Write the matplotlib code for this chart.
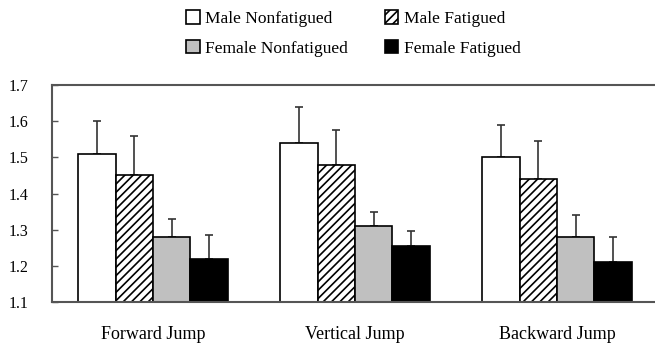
import numpy as np
import matplotlib
matplotlib.use("Agg")
import matplotlib.pyplot as plt

plt.rcParams['font.family'] = ['Liberation Serif', 'DejaVu Serif']
plt.rcParams['hatch.linewidth'] = 1.2

groups = ["Forward Jump", "Vertical Jump", "Backward Jump"]
series = ["Male Nonfatigued", "Male Fatigued", "Female Nonfatigued", "Female Fatigued"]

male_non = [1.51, 1.54, 1.50]
male_fat = [1.45, 1.48, 1.44]
female_non = [1.28, 1.31, 1.28]
female_fat = [1.22, 1.255, 1.21]

male_non_err = [0.09, 0.10, 0.09]
male_fat_err = [0.11, 0.095, 0.105]
female_non_err = [0.05, 0.04, 0.06]
female_fat_err = [0.065, 0.04, 0.07]

values = [male_non, male_fat, female_non, female_fat]
errors = [male_non_err, male_fat_err, female_non_err, female_fat_err]
colors = ["white", "white", "#c0c0c0", "black"]
hatches = [None, "////", None, None]

fig = plt.figure(figsize=(6.55, 3.43), dpi=100)
ax = fig.add_axes([52 / 655, 1 - 302 / 343, 606 / 655, (302 - 85) / 343])

x = np.arange(len(groups))
w = 0.185
bars = []
for i in range(4):
    pos = x + (i - 1.5) * w
    b = ax.bar(pos, values[i], w, bottom=0, color=colors[i], edgecolor="black",
               hatch=hatches[i], linewidth=1.2, label=series[i], zorder=2)
    bars.append(b)
    ax.errorbar(pos, values[i], yerr=[np.zeros(3), errors[i]], fmt="none",
                ecolor="#333333", elinewidth=1.2, capsize=3, capthick=1.2, zorder=1)

ax.set_xlim(-0.5, 2.5)
ax.set_ylim(1.1, 1.7)
ax.set_yticks(np.arange(1.1, 1.71, 0.1))
ax.set_yticklabels(["%.1f" % v for v in np.arange(1.1, 1.71, 0.1)], fontsize=11.5)
ax.set_xticks(x)
ax.set_xticklabels(groups, fontsize=13)
ax.tick_params(axis="x", length=0, pad=17)
ax.tick_params(axis="y", direction="in", length=4, width=1, color="#555555", pad=17)
for s in ["left", "top", "bottom"]:
    ax.spines[s].set_color("#555555")
    ax.spines[s].set_linewidth(1.5)
ax.spines["right"].set_visible(False)

# legend rows: male on top, female below
order = [0, 2, 1, 3]
fig.legend([bars[i] for i in order], [series[i] for i in order],
           loc="upper left", bbox_to_anchor=(174 / 655, 1.005), ncol=2, frameon=False,
           fontsize=12.5, handlelength=0.8, handleheight=0.8, handletextpad=0.3,
           columnspacing=2.1, labelspacing=0.75, borderaxespad=0.3)

fig.savefig("out.png", dpi=100)
